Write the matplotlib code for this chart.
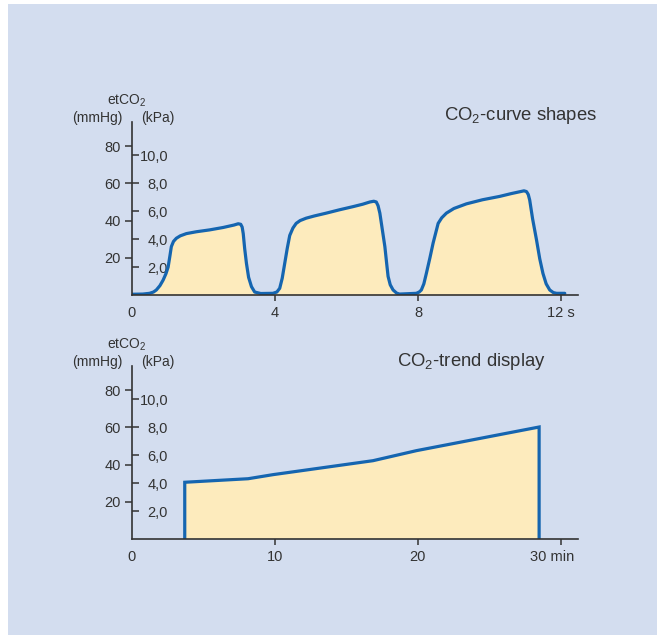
import matplotlib
matplotlib.use("Agg")
import matplotlib.pyplot as plt
from matplotlib.patches import Rectangle
import matplotlib.transforms as mtransforms

plt.rcParams["font.family"] = ["Liberation Sans", "DejaVu Sans"]
plt.rcParams["mathtext.default"] = "regular"

# capnogram shapes (time in s, etCO2 in mmHg)
t_shape = [0.0, 0.3, 0.49, 0.6, 0.68, 0.78, 0.87, 0.95, 1.01, 1.06, 1.10, 1.16, 1.24, 1.35, 1.52,
           1.8, 2.17, 2.55, 2.85, 2.97, 3.04, 3.08, 3.11, 3.15, 3.20, 3.26, 3.34, 3.43, 3.6,
           3.94, 4.05, 4.13, 4.20, 4.27, 4.34, 4.41, 4.50, 4.59, 4.70, 4.87, 5.1, 5.43, 5.8,
           6.18, 6.45, 6.65, 6.76, 6.83, 6.88, 6.93, 7.0, 7.07, 7.12, 7.16, 7.22, 7.30, 7.40,
           7.48, 7.95, 8.03, 8.09, 8.16, 8.23, 8.33, 8.42, 8.50, 8.56, 8.66, 8.79, 9.0, 9.35,
           9.8, 10.28, 10.6, 10.84, 10.96, 11.03, 11.08, 11.12, 11.2, 11.31, 11.40, 11.49,
           11.58, 11.68, 11.78, 11.87, 12.1]
co2_shape = [0.4, 0.5, 0.9, 1.6, 2.7, 5.0, 8.0, 11.5, 15.0, 21.0, 26.0, 28.8, 30.5, 31.8, 33.0,
             34.0, 35.0, 36.3, 37.6, 38.3, 38.0, 36.5, 33.0, 25.0, 17.0, 9.5, 4.5, 1.6, 0.8,
             0.9, 1.6, 3.6, 9.0, 17.0, 25.0, 32.0, 36.0, 38.5, 40.0, 41.3, 42.5, 44.0, 45.8,
             47.5, 48.8, 50.0, 50.4, 50.0, 48.0, 44.0, 35.0, 26.0, 17.0, 10.0, 5.5, 2.7, 1.0,
             0.5, 0.9, 1.6, 2.7, 6.0, 11.6, 20.0, 28.0, 34.0, 38.5, 41.5, 44.0, 46.5, 49.0,
             51.2, 53.0, 54.5, 55.5, 56.0, 55.6, 54.0, 51.0, 41.0, 29.6, 19.5, 11.6,
             6.0, 2.7, 1.3, 0.9, 0.9]

# trend (time in min, etCO2 in mmHg)
t_trend = [3.69, 3.69, 8.12, 9.87, 16.86, 19.9, 28.48, 28.48]
co2_trend = [0.0, 30.5, 32.4, 34.6, 42.1, 47.5, 60.2, 0.0]

mmhg_ticks = [20, 40, 60, 80]
kpa_ticks = [2.0, 4.0, 6.0, 8.0, 10.0]
kpa_labels = ["2,0", "4,0", "6,0", "8,0", "10,0"]
shape_xticks = [0, 4, 8, 12]
shape_xlabels = ["0", "4", "8", "12 s"]
trend_xticks = [0, 10, 20, 30]
trend_xlabels = ["0", "10", "20", "30 min"]

MMHG_PER_KPA = 7.5
BG = "#d3ddef"
FILL = "#fdebbd"
LINE = "#1565b0"
INK = "#333333"

W, H = 657, 635
fig = plt.figure(figsize=(W / 100, H / 100), dpi=100)
fig.patch.set_facecolor("white")
fig.add_artist(Rectangle((8 / W, 0), 1, 1 - 4 / H, transform=fig.transFigure,
                         facecolor=BG, edgecolor="none", zorder=-10))


def px_axes(left, bottom, right, top):
    return fig.add_axes([left / W, 1 - bottom / H, (right - left) / W, (bottom - top) / H])


def style_axes(ax, xmax, xticks, xlabels):
    ax.set_facecolor("none")
    for side in ("top", "right"):
        ax.spines[side].set_visible(False)
    for side in ("left", "bottom"):
        ax.spines[side].set_color(INK)
        ax.spines[side].set_linewidth(1.2)
    ax.set_xlim(0, xmax)
    ax.set_ylim(0, 93)
    ax.set_yticks(mmhg_ticks)
    ax.set_yticklabels([str(v) for v in mmhg_ticks])
    ax.set_xticks(xticks)
    ax.set_xticklabels(xlabels)
    ax.tick_params(axis="y", direction="out", length=5, width=1.1, color=INK,
                   labelcolor=INK, labelsize=10.5, pad=3)
    ax.tick_params(axis="x", direction="out", length=4, width=1.1, color=INK,
                   labelcolor=INK, labelsize=10.5, pad=4)
    ax.xaxis.get_major_ticks()[0].tick1line.set_visible(False)

    sec = ax.secondary_yaxis("left", functions=(lambda v: v / MMHG_PER_KPA,
                                                 lambda v: v * MMHG_PER_KPA))
    sec.spines["left"].set_visible(False)
    sec.set_yticks(kpa_ticks)
    sec.set_yticklabels(kpa_labels)
    sec.tick_params(axis="y", direction="in", length=5, width=1.1, color=INK,
                    labelcolor=INK, labelsize=10.5, pad=-26)
    for lab in sec.get_yticklabels():
        lab.set_horizontalalignment("right")
    return sec


def axis_titles(y_top):
    kw = dict(color=INK, fontsize=10, ha="center", va="center")
    fig.text(127 / W, 1 - y_top / H, "etCO$_2$", **kw)
    fig.text(97 / W, 1 - (y_top + 17) / H, "(mmHg)", **kw)
    fig.text(158 / W, 1 - (y_top + 17) / H, "(kPa)", **kw)


# top: curve shapes
ax1 = px_axes(132, 295, 578, 122)
style_axes(ax1, 12.47, shape_xticks, shape_xlabels)
ax1.fill_between(t_shape, co2_shape, 0, color=FILL, linewidth=0)
ax1.plot(t_shape, co2_shape, color=LINE, linewidth=2.3, solid_capstyle="round",
         solid_joinstyle="round")
axis_titles(101)
fig.text(597 / W, 1 - 116 / H, "CO$_2$-curve shapes", color=INK, fontsize=13.3,
         ha="right", va="center")

# bottom: trend
ax2 = px_axes(132, 539, 578, 366)
style_axes(ax2, 31.2, trend_xticks, trend_xlabels)
ax2.fill(t_trend, co2_trend, color=FILL, linewidth=0)
ax2.plot(t_trend, co2_trend, color=LINE, linewidth=2.3, solid_joinstyle="miter")
axis_titles(345)
fig.text(546 / W, 1 - 361 / H, "CO$_2$-trend display", color=INK, fontsize=13.3,
         ha="right", va="center")
last = ax2.get_xticklabels()[-1]
last.set_transform(last.get_transform() + mtransforms.ScaledTranslation(-9 / 100, 0, fig.dpi_scale_trans))

fig.savefig("out.png", dpi=100, facecolor=fig.get_facecolor())
